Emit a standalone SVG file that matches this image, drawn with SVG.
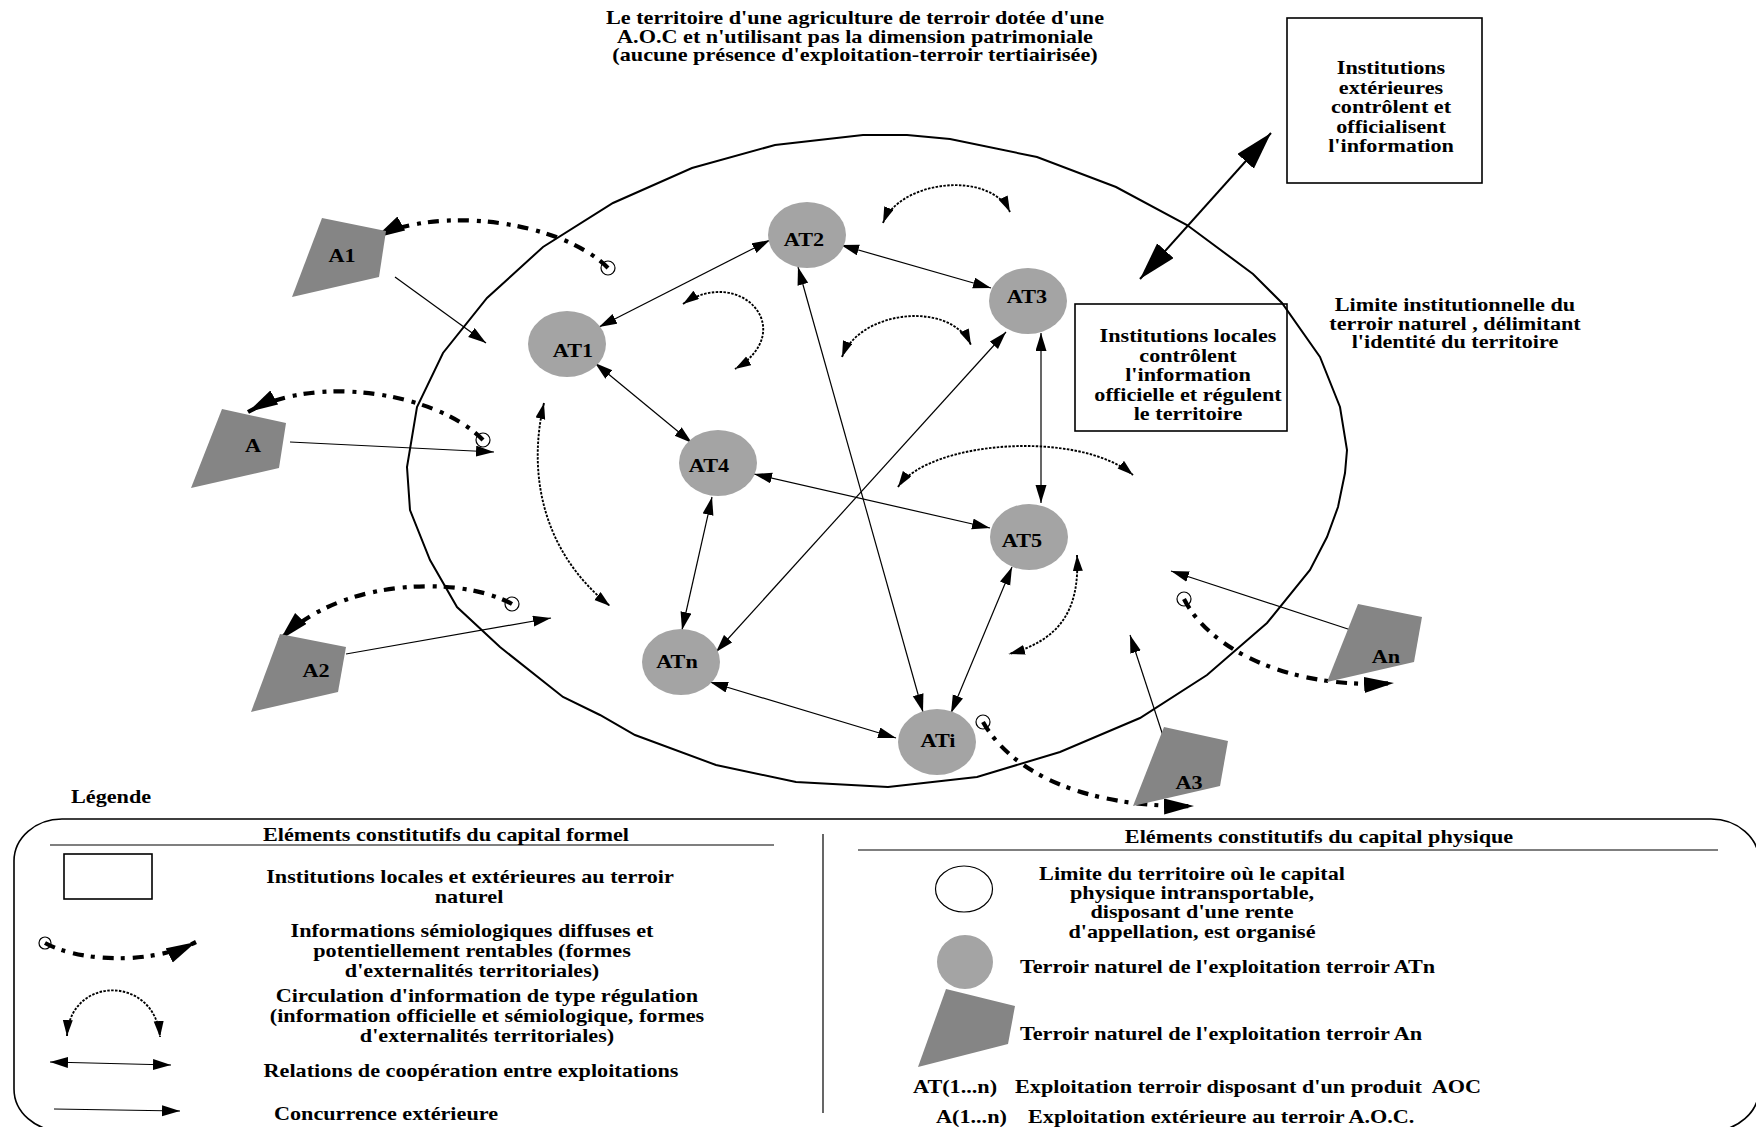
<svg xmlns="http://www.w3.org/2000/svg" width="1756" height="1127" viewBox="0 0 1756 1127">
<style>
.t{font-family:"Liberation Serif","Times New Roman",serif;font-weight:bold;font-size:18.5px;fill:#000}
.c{text-anchor:middle}
.at{fill:#a4a4a4}
.a{fill:#858585}
.thin{fill:none;stroke:#000;stroke-width:1.2}
.info{fill:none;stroke:#000;stroke-width:4.2;stroke-dasharray:11 7 4 8}
.reg{fill:none;stroke:#000;stroke-width:1.9;stroke-dasharray:2.5 1.4}
.box{fill:none;stroke:#000;stroke-width:1.6}
.circ{fill:none;stroke:#000;stroke-width:1.2}
</style>
<defs>
<marker id="h" markerUnits="userSpaceOnUse" markerWidth="20" markerHeight="12" refX="18" refY="5.5" orient="auto-start-reverse"><path d="M0,0 L18,5.5 L0,11 Z" fill="#000"/></marker>
<marker id="hr" markerUnits="userSpaceOnUse" markerWidth="17" markerHeight="11" refX="16" refY="5" orient="auto-start-reverse"><path d="M0,0 L16,5 L0,10 Z" fill="#000"/></marker>
<marker id="hb" markerUnits="userSpaceOnUse" markerWidth="31" markerHeight="17" refX="30" refY="8" orient="auto"><path d="M0,0 L30,8 L0,16 Z" fill="#000"/></marker>
<marker id="hx" markerUnits="userSpaceOnUse" markerWidth="39" markerHeight="23" refX="38" refY="11" orient="auto-start-reverse"><path d="M0,0 L38,11 L0,22 Z" fill="#000"/></marker>
</defs>
<rect width="1756" height="1127" fill="#fff"/>

<g id="title">
<text class="t c" transform="translate(855 24) scale(1.2 1)">Le territoire d'une agriculture de terroir dotée d'une</text>
<text class="t c" transform="translate(855 42.5) scale(1.2 1)">A.O.C et n'utilisant pas la dimension patrimoniale</text>
<text class="t c" transform="translate(855 61) scale(1.2 1)">(aucune présence d'exploitation-terroir tertiairisée)</text>
</g>

<g id="territoire">
<path d="M863,135 L907,135 L950,139 L1037,157 L1116,187 L1187,225 L1253,274 L1282,303 L1320,357 L1340,407 L1347,450 L1345,473 L1338,507 L1327,537 L1310,570 L1267,623 L1207,675 L1140,718 L1060,752 L977,777 L888,787 L796,782 L716,765 L635,735 L600,715 L563,697 L500,647 L457,607 L430,560 L410,510 L407,467 L417,407 L443,353 L487,298 L543,247 L613,203 L692,168 L775,145 Z" fill="none" stroke="#000" stroke-width="2"/>
</g>

<g id="connectors">
<line class="thin" x1="599" y1="327" x2="770" y2="240" marker-start="url(#h)" marker-end="url(#h)"/>
<line class="thin" x1="841" y1="245" x2="991" y2="288" marker-start="url(#h)" marker-end="url(#h)"/>
<line class="thin" x1="595" y1="363" x2="692" y2="443" marker-start="url(#h)" marker-end="url(#h)"/>
<line class="thin" x1="798" y1="267" x2="923" y2="712" marker-start="url(#h)" marker-end="url(#h)"/>
<line class="thin" x1="1006" y1="332" x2="716" y2="652" marker-start="url(#h)" marker-end="url(#h)"/>
<line class="thin" x1="1041" y1="333" x2="1041" y2="503" marker-start="url(#h)" marker-end="url(#h)"/>
<line class="thin" x1="754" y1="474" x2="990" y2="528" marker-start="url(#h)" marker-end="url(#h)"/>
<line class="thin" x1="712" y1="497" x2="682" y2="630" marker-start="url(#h)" marker-end="url(#h)"/>
<line class="thin" x1="710" y1="682" x2="896" y2="738" marker-start="url(#h)" marker-end="url(#h)"/>
<line class="thin" x1="1012" y1="567" x2="951" y2="713" marker-start="url(#h)" marker-end="url(#h)"/>
<line x1="1140" y1="279" x2="1271" y2="133" stroke="#000" stroke-width="2" marker-start="url(#hx)" marker-end="url(#hx)"/>
<line class="thin" x1="395" y1="277" x2="486" y2="343" marker-end="url(#h)"/>
<line class="thin" x1="290" y1="442" x2="494" y2="452" marker-end="url(#h)"/>
<line class="thin" x1="346" y1="654" x2="551" y2="618" marker-end="url(#h)"/>
<line class="thin" x1="1354" y1="631" x2="1171" y2="571" marker-end="url(#h)"/>
<line class="thin" x1="1168" y1="751" x2="1130" y2="635" marker-end="url(#h)"/>
<path class="reg" d="M883,223 C900,180 990,170 1010,212" marker-start="url(#hr)" marker-end="url(#hr)"/>
<path class="reg" d="M683,304 C740,265 800,330 735,369" marker-start="url(#hr)" marker-end="url(#hr)"/>
<path class="reg" d="M842,357 C860,310 950,300 971,345" marker-start="url(#hr)" marker-end="url(#hr)"/>
<path class="reg" d="M544,403 C528,470 540,550 610,606" marker-start="url(#hr)" marker-end="url(#hr)"/>
<path class="reg" d="M898,487 C930,440 1080,430 1133,475" marker-start="url(#hr)" marker-end="url(#hr)"/>
<path class="reg" d="M1077,555 C1080,610 1060,640 1009,654" marker-start="url(#hr)" marker-end="url(#hr)"/>
<path class="info" d="M608,268 C560,220 435,205 375,238" marker-end="url(#hb)"/>
<circle class="circ" cx="608" cy="268" r="7"/>
<path class="info" d="M483,440 C440,395 320,372 248,412" marker-end="url(#hb)"/>
<circle class="circ" cx="483" cy="440" r="7"/>
<path class="info" d="M512,604 C460,575 340,578 280,640" marker-end="url(#hb)"/>
<circle class="circ" cx="512" cy="604" r="7"/>
<path class="info" d="M983,722 C1010,770 1080,808 1194,806" marker-end="url(#hb)"/>
<circle class="circ" cx="983" cy="722" r="7"/>
<path class="info" d="M1184,599 C1210,650 1290,690 1394,683" marker-end="url(#hb)"/>
<circle class="circ" cx="1184" cy="599" r="7"/>
</g>

<g id="inst-ext">
<rect class="box" x="1287" y="18" width="195" height="165"/>
<text class="t c" transform="translate(1391 74) scale(1.2 1)">Institutions</text>
<text class="t c" transform="translate(1391 93.5) scale(1.2 1)">extérieures</text>
<text class="t c" transform="translate(1391 113) scale(1.2 1)">contrôlent et</text>
<text class="t c" transform="translate(1391 132.5) scale(1.2 1)">officialisent</text>
<text class="t c" transform="translate(1391 152) scale(1.2 1)">l'information</text>
</g>

<g id="inst-loc">
<rect class="box" x="1075" y="304" width="212" height="127"/>
<text class="t c" transform="translate(1188 342) scale(1.2 1)">Institutions locales</text>
<text class="t c" transform="translate(1188 361.5) scale(1.2 1)">contrôlent</text>
<text class="t c" transform="translate(1188 381) scale(1.2 1)">l'information</text>
<text class="t c" transform="translate(1188 400.5) scale(1.2 1)">officielle et régulent</text>
<text class="t c" transform="translate(1188 420) scale(1.2 1)">le territoire</text>
</g>

<g id="limite">
<text class="t c" transform="translate(1455 311) scale(1.2 1)">Limite institutionnelle du</text>
<text class="t c" transform="translate(1455 329.5) scale(1.2 1)">terroir naturel , délimitant</text>
<text class="t c" transform="translate(1455 348) scale(1.2 1)">l'identité du territoire</text>
</g>

<g id="AT1"><ellipse class="at" cx="567" cy="344" rx="39" ry="33"/><text class="t c" transform="translate(573 357) scale(1.2 1)">AT1</text></g>
<g id="AT2"><ellipse class="at" cx="807" cy="235" rx="39" ry="33"/><text class="t c" transform="translate(804 246) scale(1.2 1)">AT2</text></g>
<g id="AT3"><ellipse class="at" cx="1028" cy="301" rx="39" ry="33"/><text class="t c" transform="translate(1027 303) scale(1.2 1)">AT3</text></g>
<g id="AT4"><ellipse class="at" cx="718" cy="463" rx="39" ry="33"/><text class="t c" transform="translate(709 472) scale(1.2 1)">AT4</text></g>
<g id="AT5"><ellipse class="at" cx="1029" cy="537" rx="39" ry="33"/><text class="t c" transform="translate(1022 547) scale(1.2 1)">AT5</text></g>
<g id="ATn"><ellipse class="at" cx="681" cy="662" rx="39" ry="33"/><text class="t c" transform="translate(677 668) scale(1.2 1)">ATn</text></g>
<g id="ATi"><ellipse class="at" cx="937" cy="742" rx="39" ry="33"/><text class="t c" transform="translate(938 747) scale(1.2 1)">ATi</text></g>

<g id="A1"><polygon class="a" points="322,218 386,231 379,277 292,297"/><text class="t c" transform="translate(342 262) scale(1.2 1)">A1</text></g>
<g id="A"><polygon class="a" points="222,409 286,423 279,468 191,488"/><text class="t c" transform="translate(253 452) scale(1.2 1)">A</text></g>
<g id="A2"><polygon class="a" points="280,634 346,647 338,692 251,712"/><text class="t c" transform="translate(316 677) scale(1.2 1)">A2</text></g>
<g id="An"><polygon class="a" points="1358,604 1422,617 1414,662 1327,682"/><text class="t c" transform="translate(1386 663) scale(1.2 1)">An</text></g>
<g id="A3"><polygon class="a" points="1164,727 1228,741 1220,786 1133,806"/><text class="t c" transform="translate(1189 789) scale(1.2 1)">A3</text></g>

<g id="legende">
<text class="t" transform="translate(71 803) scale(1.2 1)">Légende</text>
<rect x="14" y="819" width="1745" height="312" rx="48" ry="42" fill="none" stroke="#000" stroke-width="1.6"/>
<line x1="823" y1="834" x2="823" y2="1113" stroke="#000" stroke-width="1.2"/>
<text class="t c" transform="translate(446 841) scale(1.2 1)">Eléments constitutifs du capital formel</text>
<line x1="50" y1="845" x2="774" y2="845" stroke="#000" stroke-width="1.2"/>
<text class="t c" transform="translate(1319 843) scale(1.2 1)">Eléments constitutifs du capital physique</text>
<line x1="858" y1="850" x2="1718" y2="850" stroke="#000" stroke-width="1.2"/>

<rect class="box" x="64" y="854" width="88" height="45"/>
<text class="t c" transform="translate(470 883) scale(1.2 1)">Institutions locales et extérieures au terroir</text>
<text class="t c" transform="translate(469 903) scale(1.2 1)">naturel</text>

<path class="info" d="M45,943 C80,962 150,965 196,942" marker-end="url(#hb)"/>
<circle class="circ" cx="45" cy="943" r="6"/>
<text class="t c" transform="translate(472 937) scale(1.2 1)">Informations sémiologiques diffuses et</text>
<text class="t c" transform="translate(472 957) scale(1.2 1)">potentiellement rentables (formes</text>
<text class="t c" transform="translate(472 977) scale(1.2 1)">d'externalités territoriales)</text>

<path class="reg" d="M67,1036 C70,975 155,975 160,1037" marker-start="url(#hr)" marker-end="url(#hr)"/>
<text class="t c" transform="translate(487 1002) scale(1.2 1)">Circulation d'information de type régulation</text>
<text class="t c" transform="translate(487 1022) scale(1.2 1)">(information officielle et sémiologique, formes</text>
<text class="t c" transform="translate(487 1042) scale(1.2 1)">d'externalités territoriales)</text>

<line class="thin" x1="50" y1="1062" x2="171" y2="1065" marker-start="url(#h)" marker-end="url(#h)"/>
<text class="t c" transform="translate(471 1077) scale(1.2 1)">Relations de coopération entre exploitations</text>

<line class="thin" x1="54" y1="1109" x2="180" y2="1111" marker-end="url(#h)"/>
<text class="t c" transform="translate(386 1120) scale(1.2 1)">Concurrence extérieure</text>

<ellipse cx="964" cy="889" rx="28.5" ry="23" fill="none" stroke="#000" stroke-width="1.2"/>
<text class="t c" transform="translate(1192 880) scale(1.2 1)">Limite du territoire où le capital</text>
<text class="t c" transform="translate(1192 899) scale(1.2 1)">physique intransportable,</text>
<text class="t c" transform="translate(1192 918) scale(1.2 1)">disposant d'une rente</text>
<text class="t c" transform="translate(1192 938) scale(1.2 1)">d'appellation, est organisé</text>

<ellipse class="at" cx="965" cy="962" rx="28" ry="27"/>
<text class="t" transform="translate(1020 973) scale(1.2 1)">Terroir naturel de l'exploitation terroir ATn</text>

<polygon class="a" points="946,989 1015,1006 1008,1044 918,1067"/>
<text class="t" transform="translate(1020 1040) scale(1.2 1)">Terroir naturel de l'exploitation terroir An</text>

<text class="t" transform="translate(913 1093) scale(1.2 1)">AT(1...n)</text>
<text class="t" xml:space="preserve" transform="translate(1015 1093) scale(1.2 1)">Exploitation terroir disposant d'un produit  AOC</text>
<text class="t" transform="translate(936 1123) scale(1.2 1)">A(1...n)</text>
<text class="t" transform="translate(1028 1123) scale(1.2 1)">Exploitation extérieure au terroir A.O.C.</text>
</g>
</svg>
